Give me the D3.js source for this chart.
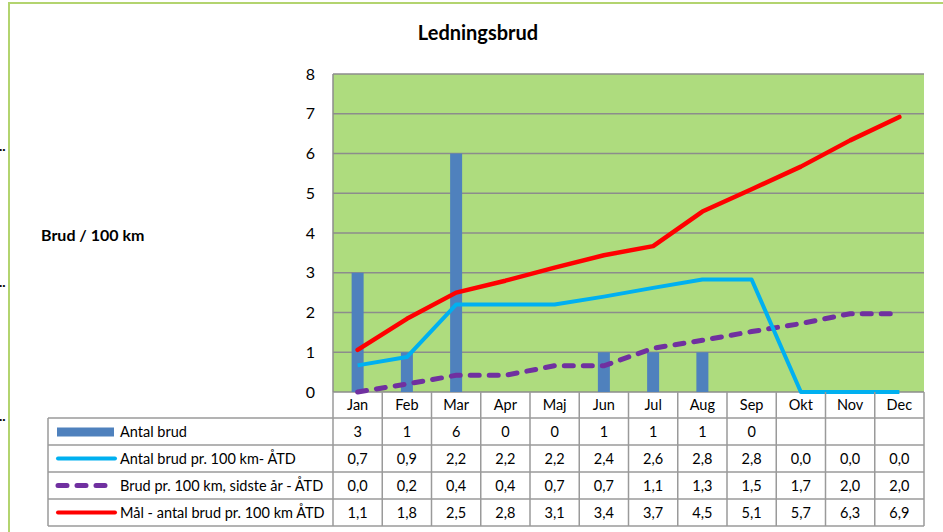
<!DOCTYPE html>
<html>
<head>
<meta charset="utf-8">
<script src="https://cdn.jsdelivr.net/npm/d3@7"></script>
<style>
  body { margin: 0; background: #fff; }
  svg { display: block; font-family: Lato, "Open Sans", sans-serif; }
</style>
</head>
<body>
<div id="chart"></div>
<script>
// months and series
var months = ["Jan", "Feb", "Mar", "Apr", "Maj", "Jun", "Jul", "Aug", "Sep", "Okt", "Nov", "Dec"];
var antalBrud = [3, 1, 6, 0, 0, 1, 1, 1, 0, null, null, null];
var brudAtd = [0.67, 0.88, 2.2, 2.2, 2.2, 2.4, 2.62, 2.83, 2.83, 0, 0, 0];
var brudSidsteAar = [0.0, 0.2, 0.42, 0.42, 0.66, 0.66, 1.1, 1.3, 1.52, 1.72, 1.97, 1.97];
var maalAtd = [1.06, 1.84, 2.5, 2.8, 3.13, 3.44, 3.67, 4.54, 5.1, 5.67, 6.33, 6.92];
var yTicks = [0, 1, 2, 3, 4, 5, 6, 7, 8];

var svgWidth = 943, svgHeight = 532;
var plot = { left: 333, right: 924, top: 74, bottom: 392 };
var rowTop = [392, 418, 445, 472, 499, 526];
var legendLeft = 48;
var fs = 14.5;

var svg = d3.select("#chart").append("svg")
  .attr("width", svgWidth)
  .attr("height", svgHeight);

var x = d3.scaleBand().domain(months).range([plot.left, plot.right]).padding(0);
var y = d3.scaleLinear().domain([0, 8]).range([plot.bottom, plot.top]);
var fmt = function(v) { return v == null ? "" : d3.format(".1f")(v).replace(".", ","); };

// outer frame (green, partly cut off)
svg.append("path")
  .attr("d", "M9,532 V3 H943")
  .attr("fill", "none")
  .attr("stroke", "#b3d46f")
  .attr("stroke-width", 2);

// truncated text marks outside the frame
[151, 287, 421].forEach(function(yy) {
  svg.append("text").attr("x", -1).attr("y", yy).attr("font-size", 14).attr("font-weight", "bold").text("..");
});

svg.append("text")
  .attr("x", 478).attr("y", 40)
  .attr("text-anchor", "middle")
  .attr("font-size", 20).attr("font-weight", "bold")
  .text("Ledningsbrud");

svg.append("text")
  .attr("x", 41).attr("y", 241)
  .attr("font-size", 16).attr("font-weight", "bold")
  .text("Brud / 100 km");

// plot background
svg.append("rect")
  .attr("x", plot.left).attr("y", plot.top)
  .attr("width", plot.right - plot.left).attr("height", plot.bottom - plot.top)
  .attr("fill", "#aedc7e");

svg.append("g").selectAll("line")
  .data(yTicks)
  .join("line")
  .attr("x1", plot.left).attr("x2", plot.right)
  .attr("y1", function(d) { return y(d); }).attr("y2", function(d) { return y(d); })
  .attr("stroke", "#8c8c8c").attr("stroke-width", 1.5);

svg.append("line")
  .attr("x1", plot.left).attr("x2", plot.left)
  .attr("y1", plot.top).attr("y2", plot.bottom)
  .attr("stroke", "#8c8c8c").attr("stroke-width", 1.5);

var yAxis = svg.append("g")
  .attr("transform", "translate(" + (plot.left - 18) + ",0)")
  .call(d3.axisLeft(y).tickValues(yTicks).tickSize(0).tickPadding(0));
yAxis.select(".domain").remove();
yAxis.selectAll("text")
  .attr("font-size", 16).attr("font-family", "Lato, sans-serif").attr("fill", "#000");

// bars
svg.append("g").selectAll("rect")
  .data(months.map(function(m, i) { return { m: m, v: antalBrud[i] }; }).filter(function(d) { return d.v; }))
  .join("rect")
  .attr("x", function(d) { return x(d.m) + x.bandwidth() / 2 - 6; })
  .attr("width", 12)
  .attr("y", function(d) { return y(d.v); })
  .attr("height", function(d) { return y(0) - y(d.v); })
  .attr("fill", "#4f81bd");

var line = d3.line()
  .x(function(d, i) { return x(months[i]) + x.bandwidth() / 2; })
  .y(function(d) { return y(d); });

svg.append("path")
  .attr("d", line(brudSidsteAar))
  .attr("fill", "none").attr("stroke", "#7030a0").attr("stroke-width", 5)
  .attr("stroke-dasharray", "9,10").attr("stroke-linecap", "round");

svg.append("path")
  .attr("d", line(brudAtd))
  .attr("fill", "none").attr("stroke", "#00b0f0").attr("stroke-width", 4)
  .attr("stroke-linejoin", "round");

svg.append("path")
  .attr("d", line(maalAtd))
  .attr("fill", "none").attr("stroke", "#ff0000").attr("stroke-width", 4.5)
  .attr("stroke-linejoin", "round").attr("stroke-linecap", "round");

// data table
var grid = svg.append("g").attr("stroke", "#9a9a9a").attr("stroke-width", 1.5);
rowTop.slice(1).forEach(function(ry) {
  grid.append("line").attr("x1", legendLeft).attr("x2", plot.right).attr("y1", ry).attr("y2", ry);
});
grid.append("line").attr("x1", legendLeft).attr("x2", legendLeft).attr("y1", rowTop[1]).attr("y2", rowTop[5]);
months.forEach(function(m) {
  grid.append("line").attr("x1", x(m)).attr("x2", x(m)).attr("y1", rowTop[0]).attr("y2", rowTop[5]);
});
grid.append("line").attr("x1", plot.right).attr("x2", plot.right).attr("y1", rowTop[0]).attr("y2", rowTop[5]);

svg.append("g").selectAll("text")
  .data(months)
  .join("text")
  .attr("x", function(d) { return x(d) + x.bandwidth() / 2; })
  .attr("y", (rowTop[0] + rowTop[1]) / 2 + 5)
  .attr("text-anchor", "middle").attr("font-size", fs)
  .text(function(d) { return d; });

var rows = [
  { name: "Antal brud", values: antalBrud, text: function(v) { return v == null ? "" : v; } },
  { name: "Antal brud pr. 100 km- ÅTD", values: brudAtd, text: fmt },
  { name: "Brud pr. 100 km, sidste år - ÅTD", values: brudSidsteAar, text: fmt },
  { name: "Mål - antal brud pr. 100 km ÅTD", values: maalAtd, text: fmt }
];

rows.forEach(function(r, ri) {
  var cy = (rowTop[ri + 1] + rowTop[ri + 2]) / 2;
  svg.append("g").selectAll("text")
    .data(r.values)
    .join("text")
    .attr("x", function(d, i) { return x(months[i]) + x.bandwidth() / 2; })
    .attr("y", cy + 5)
    .attr("text-anchor", "middle").attr("font-size", fs)
    .text(function(d) { return r.text(d); });
  svg.append("text")
    .attr("x", 120).attr("y", cy + 5)
    .attr("font-size", fs)
    .text(r.name);
});

// legend keys
var keyY = function(ri) { return (rowTop[ri + 1] + rowTop[ri + 2]) / 2; };
svg.append("rect")
  .attr("x", 57).attr("y", keyY(0) - 4).attr("width", 57).attr("height", 9)
  .attr("fill", "#4f81bd");
svg.append("line")
  .attr("x1", 58).attr("x2", 115).attr("y1", keyY(1)).attr("y2", keyY(1))
  .attr("stroke", "#00b0f0").attr("stroke-width", 4).attr("stroke-linecap", "round");
svg.append("line")
  .attr("x1", 58).attr("x2", 115).attr("y1", keyY(2)).attr("y2", keyY(2))
  .attr("stroke", "#7030a0").attr("stroke-width", 5).attr("stroke-linecap", "round")
  .attr("stroke-dasharray", "9,10");
svg.append("line")
  .attr("x1", 58).attr("x2", 115).attr("y1", keyY(3)).attr("y2", keyY(3))
  .attr("stroke", "#ff0000").attr("stroke-width", 4).attr("stroke-linecap", "round");
</script>
</body>
</html>
